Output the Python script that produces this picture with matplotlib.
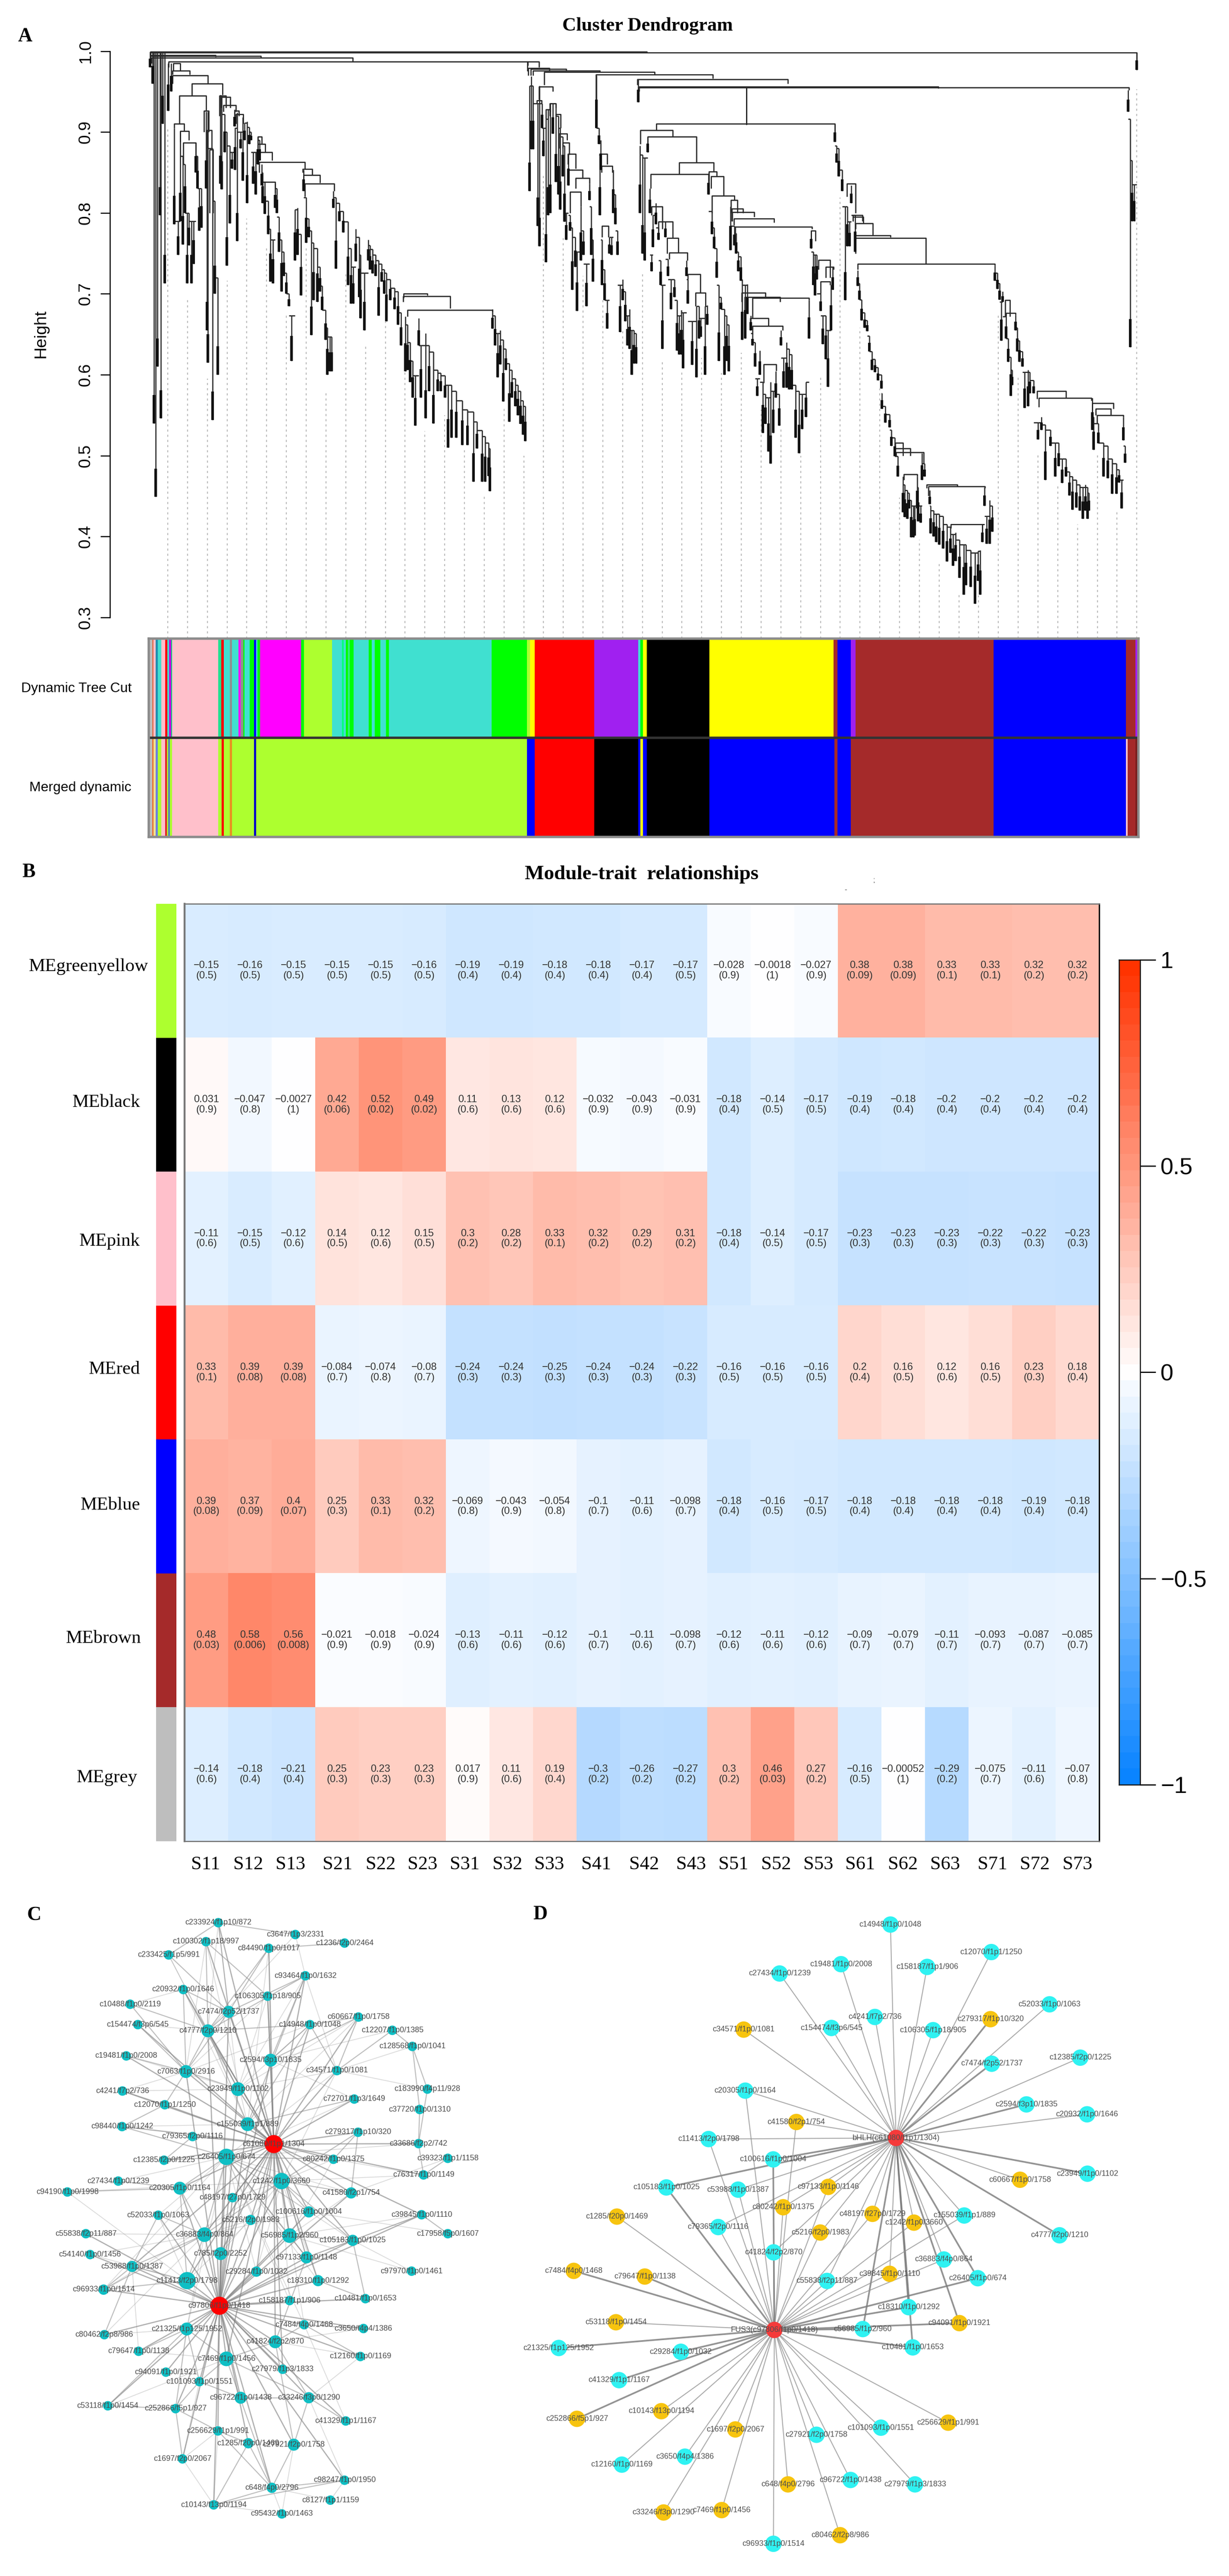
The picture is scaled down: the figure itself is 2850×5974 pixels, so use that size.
import numpy as np
import matplotlib
matplotlib.use("Agg")
import matplotlib.pyplot as plt
from matplotlib.collections import LineCollection
from matplotlib.colors import LinearSegmentedColormap, Normalize

W, H = 2850, 5974
SERIF = "Liberation Serif"
SANS = "Liberation Sans"

# ---------------------------------------------------------------- panel A data
dyn_edges = [189.75,194,196,198.7,201.3,206,210.5,213.6,215.4,218.5,219.6,278.3,282,285.6,293.3,296,304.3,307,310,312,318.6,324,326.7,328.5,331.8,384,387.7,423.5,436.3,438.5,441,444,446,451,470,474,478,485,492,496,504,627,672,676,682,758,814,817,820,825,905,1063,1068,1085,1091,1267,1436,1448,1452]
dyn_colors = ["#BEBEBE","#E07050","#FFC0CB","#1F8FB0","#40E0D0","#FFC0CB","#FF0000","#40E0D0","#C000E0","#00E070","#FFC0CB","#20E090","#FF0000","#40E0D0","#909090","#40E0D0","#FF00FF","#909090","#00FF00","#40E0D0","#00FF00","#0000FF","#40E0D0","#00FF00","#FF00FF","#00FF00","#ADFF2F","#40E0D0","#00FF80","#40E0D0","#00FF00","#30F080","#00FF00","#40E0D0","#00FF00","#40E0D0","#00FF00","#40E0D0","#00FF00","#40E0D0","#40E0D0","#00FF00","#ADFF2F","#FFFF00","#FF0000","#A020F0","#40E0D0","#00FF00","#FFFF00","#000000","#FFFF00","#A52A2A","#0000FF","#A020F0","#A52A2A","#0000FF","#A52A2A","#A020F0"]
merged_edges = [189.75,194,196,198.7,201.3,206,210.5,213,214.5,216.7,219.6,278.3,283,285.6,293.3,296,324,326.7,672,682,758,814,817,820,825,905,1064,1068,1085,1091,1267,1436,1438,1448,1452]
merged_colors = ["#BEBEBE","#E87030","#F0E090","#6A80E0","#ADFF2F","#FFC0CB","#E02020","#ADFF2F","#5080C0","#ADFF2F","#FFC0CB","#ADFF2F","#FF0000","#ADFF2F","#E89020","#ADFF2F","#0000C8","#ADFF2F","#0000FF","#FF0000","#000000","#0000FF","#FFFF00","#0000FF","#000000","#0000FF","#A52A2A","#0000FF","#A52A2A","#A52A2A","#0000FF","#FFC0CB","#A52A2A","#7A1F1F"]

guide_tops = [.905,.692,.595,.716,.793,.76,.673,.756,.58,.726,.636,.685,.614,.53,.55,.509,.449,.561,.50,
              .849,.772,.722,.696,.655,.728,.617,.606,.621,.602,.627,.557,.535,.50,.60,.819,.658,
              .583,.448,.396,.37,.328,.327,.674,.60,.503,.464,.415,.503,.432,.953]

# brackets: left x, right x, height, left child height, right child height
brackets_top = [(192,1450,.998,.985,.977),(192,825,.999,.985,.998),(193,450,.992,.985,.987),(192,333,.994,.985,.992),
    (192,275,.995,.985,.993),(215,673,.987,.98,.982),(221,230,.985,.976,.976),(220,242,.976,.971,.971),(220,265,.970,.96,.96)]
brackets_a = [(245,284,.960,.945,.946),(229,263,.945,.910,.926),(222,235,.910,.905,.901),(230,241,.901,.888,.89),(234,250,.887,.86,.87),
    (260,266,.926,.90,.90),(264,270,.902,.88,.88),(267.5,271.6,.878,.80,.80),(280,288,.945,.92,.93),(282,294,.943,.93,.93),
    (285,301,.933,.925,.925),(299,305,.926,.92,.92),(301,310,.922,.91,.91),(329,334,.894,.86,.885),(329,338.5,.885,.86,.875),
    (329,347,.875,.87,.865),(330.6,389,.863,.85,.854),(335,351,.838,.82,.825),(386,398.5,.854,.85,.847),(387.5,408,.847,.84,.837),
    (389,426,.836,.82,.827),(514,574,.697,.69,.682),(515,545,.70,.695,.698),(520,628,.680,.672,.678)]
brackets_b = [(672.6,687.5,.987,.975,.98),(674,700.7,.979,.97,.975),(677,722,.978,.97,.975),(680,765,.976,.97,.974),(694,835,.974,.958,.971),
    (760,909,.971,.94,.966),(813,1005,.965,.958,.96),(814,1440,.955,.94,.952),(815,1197,.956,.95,.954),(951.8,951.8,.954,.909,.909),
    (837,1065,.91,.902,.895),(817,858,.902,.885,.894),(826,888,.894,.875,.862),(866,910,.862,.848,.851),(830,904,.848,.83,.835),
    (904,914,.851,.84,.845),(907,923,.845,.83,.821),(908,936.4,.821,.80,.816),(932,940.6,.816,.80,.80),(933.6,947.6,.805,.79,.80),
    (934,962,.801,.79,.795),(936,987,.793,.785,.788),(938,1035.5,.783,.76,.78),(946,976,.701,.69,.695),(950,995,.696,.68,.69),
    (960,1032,.695,.67,.692),(957,980,.67,.655,.66),(960,998,.66,.65,.655),(974,990,.613,.59,.605),(1034.6,1040,.778,.756,.765),
    (1044,1058.5,.742,.73,.72),(1053,1063,.733,.72,.73),(1046.7,1058.5,.715,.70,.711),(687.5,705,.956,.94,.95),(685,691,.939,.935,.935),
    (701,709,.935,.92,.93),(696.5,702,.928,.916,.925),(709,715,.922,.92,.905),(713,723,.898,.88,.89),(717.5,726,.887,.88,.872),
    (724.5,734,.873,.86,.855),(725,743,.853,.84,.843),(734,752,.843,.83,.836),(727,741,.826,.80,.808),(853.6,876.6,.751,.743,.741),
    (851,865,.769,.75,.751),(839.6,858,.789,.77,.769),(831,845,.808,.797,.78),(877.5,893,.724,.718,.701),(887,900,.701,.685,.685),
    (765,774.5,.873,.86,.86),(767,781,.858,.85,.85),(768,776,.784,.77,.77)]
brackets_c = [(1088,1101,.795,.79,.787),(1091,1113,.787,.78,.772),(1091,1136,.772,.77,.77),(1091,1181,.769,.75,.737),(1094,1269,.737,.73,.735),
    (1142,1151.5,.516,.50,.50),(1142,1161,.509,.50,.50),(1143,1178,.504,.50,.49),(1153,1170,.477,.47,.474),(1182,1221,.464,.46,.462),
    (1184,1256,.462,.45,.46),(1213,1253,.415,.41,.395),(1282,1288,.692,.672,.672),(1283,1295,.676,.672,.674),(1322.6,1359.4,.58,.57,.572),
    (1325,1392,.571,.56,.568),(1393,1420,.565,.55,.558),(1397.6,1417,.558,.55,.55),(1399,1433,.55,.54,.548),(1080,1091,.836,.82,.80),(1088,1100,.797,.79,.79)]

# leaves: x, top height, bottom height
left_stems = [(198.4,.999,.449),(196.5,.999,.54),(205,.999,.546),(201,.999,.61),(210,.999,.713),(204,.999,.797),(207.5,.999,.91),(214.5,.985,.926),(218.6,.985,.95),(195,.999,.96),(191.7,.999,.98)]
casc_1 = [(222,.905,.786),(227,.79,.748),(230,.90,.79),(233,.87,.761),(236,.86,.80),(239,.80,.713),(241,.80,.76),(244.5,.79,.713),(247,.79,.737),(250,.887,.85),(252,.87,.83),(254,.83,.778),(257,.83,.782)]
casc_2 = [(263,.925,.83),(264,.90,.655),(265,.925,.615),(271,.88,.544),(274,.815,.70),(277.6,.72,.60)]
casc_3 = [(281,.946,.836),(283,.945,.829),(286.5,.922,.875),(289.6,.90,.735),(293,.883,.787),(296,.875,.855),(299,.928,.907),(300,.905,.853),(302.5,.924,.765),(307,.90,.88),(309.5,.918,.84)]
casc_4 = [(312,.911,.89),(315,.913,.812),(318,.906,.885),(320,.90,.89),(323,.875,.836),(326,.875,.823),(329,.894,.86),(331,.89,.865)]
casc_5 = [(334,.86,.834),(335,.85,.812),(338,.838,.799),(342,.815,.774),(345,.78,.715),(348,.767,.713),(351,.836,.806),(353,.83,.80),(356,.795,.752),(359,.767,.703),(362,.752,.722),(365,.726,.70),(368.5,.70,.685),(372,.673,.617),(376,.804,.741),(379.6,.806,.748),(383.7,.774,.698)]
casc_6 = [(387.5,.853,.827),(390.6,.819,.763),(394,.793,.77),(397,.778,.649),(400,.763,.692),(405,.756,.69),(408,.733,.703),(411,.71,.68),(415,.68,.643),(417.5,.658,.60),(420.6,.647,.604),(423,.647,.604)]
casc_7 = [(425,.827,.806),(428.5,.819,.731),(433,.812,.79),(438,.802,.776),(444,.789,.711),(447.5,.756,.688),(450.6,.733,.688),(454,.78,.74),(458,.77,.696),(460,.748,.67),(465,.726,.655),(469.5,.767,.741),(472,.76,.73),(475,.755,.725),(479,.748,.722),(483,.741,.673),(487,.737,.715),(490,.73,.70),(493,.726,.666),(498,.718,.692),(503,.707,.681),(507.4,.703,.662),(511.5,.677,.636)]
casc_8 = [(517,.672,.604),(520,.662,.606),(523,.64,.591),(526.4,.617,.572),(529.5,.599,.537),(534,.67,.636),(537,.636,.572),(543,.651,.546),(547,.636,.58),(553,.628,.54),(558,.606,.58),(562,.602,.58),(567.4,.599,.572),(571.5,.587,.51),(576,.587,.522),(582,.58,.522),(589.5,.568,.513),(596,.557,.513),(604,.554,.468),(608.5,.542,.509),(615,.531,.468),(619,.524,.468),(623,.516,.475),(625,.509,.456)]
casc_9 = [(628,.681,.657),(631.5,.673,.636),(634.7,.651,.597),(638,.655,.613),(641.6,.643,.567),(645,.632,.606),(649.5,.614,.542),(652.7,.606,.572),(657.4,.595,.561),(660.6,.587,.55),(664,.58,.539),(667,.568,.526),(670,.561,.518)]
casc_10 = [(675.4,.957,.827),(677.4,.969,.879),(680,.957,.879),(686,.935,.784),(688,.957,.759),(691.4,.935,.905),(693,.905,.87),(696.5,.916,.739),(699,.928,.797),(702,.935,.80),(705,.935,.898),(709,.935,.838),(712,.92,.823),(714.7,.905,.804),(717.5,.894,.845),(720,.883,.789),(722,.80,.767),(725,.872,.834),(727,.797,.778),(730,.782,.705),(733.5,.77,.733),(736,.752,.679),(741,.808,.741),(744,.778,.748),(748,.737,.685),(752,.836,.816),(754,.808,.748),(756,.767,.715)]
casc_11 = [(760.5,.97,.905),(764,.905,.885),(765,.872,.797),(766,.89,.853),(768,.767,.711),(771,.73,.692),(774.5,.692,.657),(777,.77,.75),(780,.77,.748),(782,.853,.80),(785,.823,.786),(787.7,.778,.748),(791,.711,.653),(794,.718,.692),(797.5,.703,.666),(800,.673,.636),(803,.681,.632),(806,.655,.60),(808.7,.655,.614),(811.5,.651,.614)]
casc_12 = [(814,.965,.937)]
casc_13 = [(816,.883,.80),(819.4,.872,.75),(822,.868,.741),(826,.894,.875)]
casc_14 = [(829,.83,.80),(831,.748,.728),(832.6,.797,.758),(836.8,.812,.786),(839.6,.782,.767),(842.4,.741,.711),(845,.711,.632),(848.6,.789,.77),(852,.743,.722),(856,.718,.681),(860,.718,.696),(863.4,.692,.63),(866,.673,.625),(869,.68,.625),(871,.677,.608),(875.5,.741,.722),(877.5,.718,.688),(883,.666,.612),(888,.685,.597),(891.5,.685,.645),(894,.67,.647),(899,.685,.60),(902,.686,.662)]
casc_15 = [(903.6,.849,.823),(908,.802,.774),(911,.782,.756),(914,.756,.72),(917,.711,.617),(919.6,.696,.681),(924,.681,.60),(926.6,.673,.617),(929.4,.662,.604)]
casc_16 = [(931.6,.808,.754),(936.4,.784,.76),(939,.775,.75),(941.4,.752,.728),(945,.746,.716),(946.8,.718,.643),(950.4,.711,.645),(953,.712,.675)]
casc_17 = [(957.4,.673,.655),(960,.651,.636),(963,.64,.61),(966,.595,.574),(969,.63,.60),(973,.591,.528),(976.5,.576,.539),(980,.572,.505),(982.7,.591,.49),(986,.58,.528),(989.7,.604,.572),(994,.576,.537)]
casc_18 = [(996,.655,.636),(999.5,.621,.584),(1003,.64,.584),(1006.5,.632,.582),(1010,.625,.582),(1015,.587,.522),(1019,.58,.503),(1023,.576,.533),(1028,.591,.548),(1032,.692,.645)]
casc_19 = [(1034.6,.778,.756),(1037.4,.752,.711),(1039.4,.748,.698),(1041.6,.748,.718),(1046.7,.70,.679),(1049.5,.673,.638),(1053,.673,.619),(1056,.655,.585),(1060,.711,.655),(1062,.733,.705)]
casc_20 = [(1064.6,.909,.888),(1067,.883,.862),(1069.7,.88,.845),(1074,.853,.827),(1078,.808,.692),(1081,.808,.759),(1083.7,.789,.759),(1085.7,.834,.812),(1090.7,.797,.752)]
casc_21 = [(1093.7,.729,.71),(1096,.713,.693),(1099,.693,.667),(1103,.677,.658),(1106,.667,.654),(1109,.648,.629),(1112,.629,.606),(1116,.619,.603),(1120,.609,.593),(1124,.60,.583),(1125,.577,.558),(1129,.561,.541),(1134.5,.551,.535),(1137,.532,.512),(1141,.522,.499),(1145,.499,.474)]
casc_22 = [(1151.5,.474,.43),(1154,.464,.424),(1157,.457,.422),(1159.5,.454,.435),(1162,.445,.399),(1165,.438,.399),(1166.5,.438,.401),(1170,.474,.435),(1171,.461,.419),(1174,.438,.417),(1176,.503,.47),(1179,.49,.474)]
casc_23 = [(1186,.457,.44),(1187,.438,.404),(1191,.432,.40),(1194,.428,.393),(1198,.428,.39),(1203,.425,.385),(1207.6,.415,.369),(1212,.412,.38),(1215.5,.403,.364),(1219,.405,.37),(1224,.396,.349),(1229,.39,.328),(1232,.39,.34),(1238,.383,.338),(1243.6,.38,.317),(1247.6,.382,.345),(1250,.383,.328)]
casc_24 = [(1253,.415,.393),(1255.5,.461,.438),(1258.6,.425,.391),(1262,.445,.391),(1265.5,.438,.406)]
casc_25 = [(1268.6,.735,.716),(1272,.726,.706),(1275,.713,.693),(1277,.69,.642),(1279,.703,.69),(1283,.672,.645),(1286,.645,.616),(1289,.622,.574),(1291,.606,.587)]
casc_26 = [(1295,.674,.655),(1297.6,.658,.629),(1300,.642,.616),(1304,.629,.61),(1307,.603,.559),(1311,.606,.561),(1313.4,.603,.577),(1318.6,.593,.577),(1324,.541,.52),(1328,.548,.532),(1333,.538,.47),(1339.7,.532,.512),(1345.7,.516,.474),(1350,.516,.487),(1354.7,.496,.466),(1359.4,.496,.474),(1364,.48,.451),(1368,.474,.433),(1372.6,.47,.436),(1377,.464,.432),(1381,.461,.422),(1384.4,.464,.432),(1387,.461,.422),(1389,.454,.432)]
casc_27 = [(1393,.571,.532),(1395,.548,.507),(1401,.54,.515),(1407.6,.516,.474),(1413,.512,.472),(1418.6,.496,.453),(1424,.49,.453),(1427,.483,.467),(1430.7,.47,.435),(1433,.548,.519),(1435,.512,.491)]
casc_28 = [(1439,.952,.925),(1441.6,.916,.634),(1444,.865,.79),(1446.5,.835,.79),(1450,.998,.977)]
cascades = [casc_1,casc_2,casc_3,casc_4,casc_5,casc_6,casc_7,casc_8,casc_9,casc_10,casc_11,casc_12,casc_13,casc_14,
            casc_15,casc_16,casc_17,casc_18,casc_19,casc_20,casc_21,casc_22,casc_23,casc_24,casc_25,casc_26,casc_27,casc_28]

# ---------------------------------------------------------------- panel B data
modules = ["MEgreenyellow","MEblack","MEpink","MEred","MEblue","MEbrown","MEgrey"]
module_colors = ["#ADFF2F","#000000","#FFC0CB","#FF0000","#0000FF","#A52A2A","#BEBEBE"]
traits = ["S11","S12","S13","S21","S22","S23","S31","S32","S33","S41","S42","S43","S51","S52","S53","S61","S62","S63","S71","S72","S73"]
r_greenyellow = [-0.15,-0.16,-0.15,-0.15,-0.15,-0.16,-0.19,-0.19,-0.18,-0.18,-0.17,-0.17,-0.028,-0.0018,-0.027,0.38,0.38,0.33,0.33,0.32,0.32]
p_greenyellow = [0.5,0.5,0.5,0.5,0.5,0.5,0.4,0.4,0.4,0.4,0.4,0.5,0.9,1,0.9,0.09,0.09,0.1,0.1,0.2,0.2]
r_black = [0.031,-0.047,-0.0027,0.42,0.52,0.49,0.11,0.13,0.12,-0.032,-0.043,-0.031,-0.18,-0.14,-0.17,-0.19,-0.18,-0.2,-0.2,-0.2,-0.2]
p_black = [0.9,0.8,1,0.06,0.02,0.02,0.6,0.6,0.6,0.9,0.9,0.9,0.4,0.5,0.5,0.4,0.4,0.4,0.4,0.4,0.4]
r_pink = [-0.11,-0.15,-0.12,0.14,0.12,0.15,0.3,0.28,0.33,0.32,0.29,0.31,-0.18,-0.14,-0.17,-0.23,-0.23,-0.23,-0.22,-0.22,-0.23]
p_pink = [0.6,0.5,0.6,0.5,0.6,0.5,0.2,0.2,0.1,0.2,0.2,0.2,0.4,0.5,0.5,0.3,0.3,0.3,0.3,0.3,0.3]
r_red = [0.33,0.39,0.39,-0.084,-0.074,-0.08,-0.24,-0.24,-0.25,-0.24,-0.24,-0.22,-0.16,-0.16,-0.16,0.2,0.16,0.12,0.16,0.23,0.18]
p_red = [0.1,0.08,0.08,0.7,0.8,0.7,0.3,0.3,0.3,0.3,0.3,0.3,0.5,0.5,0.5,0.4,0.5,0.6,0.5,0.3,0.4]
r_blue = [0.39,0.37,0.4,0.25,0.33,0.32,-0.069,-0.043,-0.054,-0.1,-0.11,-0.098,-0.18,-0.16,-0.17,-0.18,-0.18,-0.18,-0.18,-0.19,-0.18]
p_blue = [0.08,0.09,0.07,0.3,0.1,0.2,0.8,0.9,0.8,0.7,0.6,0.7,0.4,0.5,0.5,0.4,0.4,0.4,0.4,0.4,0.4]
r_brown = [0.48,0.58,0.56,-0.021,-0.018,-0.024,-0.13,-0.11,-0.12,-0.1,-0.11,-0.098,-0.12,-0.11,-0.12,-0.09,-0.079,-0.11,-0.093,-0.087,-0.085]
p_brown = [0.03,0.006,0.008,0.9,0.9,0.9,0.6,0.6,0.6,0.7,0.6,0.7,0.6,0.6,0.6,0.7,0.7,0.7,0.7,0.7,0.7]
r_grey = [-0.14,-0.18,-0.21,0.25,0.23,0.23,0.017,0.11,0.19,-0.3,-0.26,-0.27,0.3,0.46,0.27,-0.16,-0.00052,-0.29,-0.075,-0.11,-0.07]
p_grey = [0.6,0.4,0.4,0.3,0.3,0.3,0.9,0.6,0.4,0.2,0.2,0.2,0.2,0.03,0.2,0.5,1,0.2,0.7,0.6,0.8]
r_rows = [r_greenyellow,r_black,r_pink,r_red,r_blue,r_brown,r_grey]
p_rows = [p_greenyellow,p_black,p_pink,p_red,p_blue,p_brown,p_grey]
cbar_ticks = [-1,-0.5,0,0.5,1]
cbar_labels = ["\u22121","\u22120.5","0","0.5","1"]

# ---------------------------------------------------------------- panel C data
c_names = ["c233924/f1p10/872","c100302/f1p18/997","c3647/f1p3/2331","c84490/f1p0/1017","c1236/f2p0/2464","c233425/f1p5/991","c93464/f1p0/1632","c20932/f1p0/1646","c106305/f1p18/905","c10488/f1p0/2119",
 "c7474/f2p52/1737","c60667/f1p0/1758","c154474/f3p6/545","c4777/f2p0/1210","c14948/f1p0/1048","c12207/f1p0/1385","c128568/f1p0/1041","c19481/f1p0/2008","c2594/f3p10/1835","c7063/f1p0/2916",
 "c34571/f1p0/1081","c23949/f1p0/1102","c4241/f7p2/736","c183990/f4p11/928","c72701/f1p3/1649","c12070/f1p1/1250","c37720/f1p0/1310","c155039/f1p1/889","c98440/f1p0/1242","c279317/f1p10/320",
 "c79365/f2p0/1116","c33686/f2p2/742","c61080/f1p1/1304","c26405/f1p0/674","c12385/f2p0/1225","c80242/f1p0/1375","c39323/f1p1/1158","c76317/f1p0/1149","c1242/f1p0/3660","c27434/f1p0/1239",
 "c94190/f1p0/1998","c20305/f1p0/1164","c41580/f2p1/754","c48197/f27p0/1729","c100616/f1p0/1004","c52033/f1p0/1063","c39845/f1p0/1110","c5216/f2p0/1983","c36883/f4p0/864","c56985/f1p2/960",
 "c55838/f2p11/887","c17958/f5p0/1607","c105183/f1p0/1025","c54140/f1p0/1456","c785/f2p0/2252","c97133/f1p0/1148","c53988/f1p0/1387","c29284/f1p0/1032","c97970/f1p0/1461","c11413/f2p0/1798",
 "c18310/f1p0/1292","c96933/f1p0/1514","c10481/f1p0/1653","c158187/f1p1/906","c97806/f1p0/1418","c7484/f4p0/1468","c3650/f4p4/1386","c21325/f1p125/1952","c80462/f2p8/986","c41824/f2p2/870",
 "c79647/f1p0/1138","c12160/f1p0/1169","c7469/f1p0/1456","c27979/f1p3/1833","c94091/f1p0/1921","c101093/f1p0/1551","c96722/f1p0/1438","c33246/f3p0/1290","c53118/f1p0/1454","c252866/f5p1/927",
 "c41329/f1p1/1167","c256629/f1p1/991","c1285/f20p0/1469","c27921/f2p0/1758","c1697/f2p0/2067","c98247/f1p0/1950","c648/f4p0/2796","c8127/f1p1/1159","c10143/f13p0/1194","c95432/f1p0/1463"]
c_x = [567,535,767,698,895,438,793,476,695,338,594,931,358,540,805,1019,1071,328,703,483,875,618,318,1110,920,428,1090,643,317,930,
       500,1087,711,588,426,866,1163,1100,731,307,175,467,912,604,802,411,1095,651,531,752,223,1163,916,234,573,796,343,666,1069,486,
       826,269,949,752,570,790,944,485,271,715,360,936,588,734,431,518,625,802,280,456,898,566,645,763,474,895,706,858,555,732]
c_y = [190,230,215,244,233,258,302,331,345,362,378,389,405,418,405,417,451,471,480,504,502,541,545,541,562,574,584,615,620,632,
       641,656,657,684,691,689,687,722,735,735,758,750,760,770,800,807,806,817,848,850,846,846,860,890,888,896,915,926,925,945,
       945,964,983,987,998,1038,1046,1047,1059,1074,1094,1105,1110,1132,1138,1158,1192,1192,1209,1215,1241,1262,1288,1291,1321,1366,1382,1408,1418,1437]
c_sizes = {"c61080":42,"c97806":42,"c26405":38,"c1242":38,"c11413":40,"c36883":34,"c56985":34,"c7469":34,"c23949":32,"c155039":32,"c2594":30,"c7063":30,"c4777":30,"c97133":28,"c41824":30,"c21325":30,"c20305":30,"c7474":28,"c785":30,"c96722":28,"c27921":28,"c33246":26,"c18310":26,"c100616":26,"c41580":26,"c105183":26,"c53988":26,"c96933":24,"c5216":24,"c29284":24,"c1285":24,"c648":24}
c_hub1 = "c233924 c100302 c84490 c93464 c106305 c7474 c4777 c14948 c2594 c7063 c34571 c23949 c155039 c26405 c79365 c1242 c48197 c100616 c5216 c36883 c56985 c785 c97133 c29284 c11413 c18310 c80242 c279317 c41580 c105183 c60667 c72701 c20305 c12385 c98440 c12070 c4241 c19481 c20932 c154474 c76317 c39845 c33686 c53988 c7469 c27979 c41824".split()
c_hub2 = "c11413 c26405 c1242 c36883 c56985 c785 c97133 c29284 c18310 c158187 c7484 c3650 c21325 c80462 c41824 c79647 c12160 c7469 c27979 c94091 c101093 c96722 c33246 c53118 c252866 c41329 c256629 c1285 c27921 c1697 c98247 c648 c10143 c53988 c96933 c54140 c52033 c55838 c20305 c48197 c5216 c100616 c155039 c23949 c2594 c7063 c4777 c7474 c105183 c41580 c10481 c39845".split()
c_strong = [("c7063","c7474"),("c7063","c4777"),("c7063","c20932"),("c7063","c10488"),("c7063","c154474"),("c7063","c12070"),("c7063","c23949"),("c4777","c7474"),("c4777","c84490"),("c4777","c93464"),("c4777","c23949"),("c4777","c155039"),("c4777","c14948"),("c7474","c93464"),("c7474","c84490"),("c7474","c20932"),("c2594","c93464"),("c2594","c14948"),("c2594","c106305"),("c34571","c14948"),("c34571","c60667"),("c128568","c12207"),("c128568","c183990"),("c128568","c37720"),("c37720","c33686"),("c183990","c33686"),("c33686","c76317"),("c39323","c76317"),("c1236","c84490"),("c3647","c233924"),("c233924","c233425"),("c233425","c7474"),("c233924","c7474"),("c100302","c4777"),("c100302","c106305"),("c279317","c1242"),("c279317","c80242"),("c279317","c41580"),("c80242","c26405"),("c1242","c41580"),("c1242","c105183"),("c1242","c100616"),("c1242","c56985"),("c1242","c36883"),("c1242","c26405"),("c26405","c36883"),("c26405","c56985"),("c26405","c20305"),("c26405","c12385"),("c26405","c97133"),("c20305","c36883"),("c20305","c11413"),("c36883","c53988"),("c36883","c96933"),("c36883","c11413"),("c11413","c53988"),("c11413","c96933"),("c53988","c96933"),("c53988","c52033"),("c53988","c80462"),("c97133","c105183"),("c97133","c56985"),("c56985","c105183"),("c41824","c7484"),("c41824","c33246"),("c41824","c7469"),("c41824","c97133"),("c7469","c21325"),("c7469","c33246"),("c7469","c101093"),("c7469","c648"),("c21325","c101093"),("c21325","c252866"),("c21325","c79647"),("c21325","c53118"),("c101093","c252866"),("c252866","c53118"),("c252866","c1697"),("c252866","c256629"),("c256629","c648"),("c256629","c1285"),("c1285","c648"),("c1285","c10143"),("c10143","c648"),("c10143","c98247"),("c648","c27921"),("c648","c98247"),("c27921","c33246"),("c27921","c41824"),("c33246","c41329"),("c33246","c96722"),("c96722","c101093"),("c12160","c7484"),("c3650","c7484"),("c10481","c18310"),("c10481","c105183"),("c17958","c39845"),("c39845","c105183"),("c94190","c20305"),("c27434","c20305"),("c52033","c36883"),("c98440","c26405"),("c98440","c12070"),("c12385","c79365"),("c19481","c7063"),("c4241","c12070"),("c20932","c23949"),("c10488","c4777"),("c60667","c14948"),("c60667","c2594"),("c93464","c155039"),("c14948","c155039"),("c72701","c155039"),("c12207","c34571")]
c_faint = "c94190-c1242 c97970-c105183 c97970-c56985 c17958-c100616 c39323-c41580 c76317-c1242 c76317-c80242 c33686-c26405 c39845-c97133 c39845-c56985 c12160-c41824 c12160-c33246 c3650-c41824 c41329-c7484 c98247-c33246 c8127-c648 c8127-c98247 c95432-c648 c95432-c10143 c95432-c27921 c10143-c256629 c10143-c1697 c1697-c256629 c1697-c101093 c53118-c7469 c79647-c7469 c79647-c53988 c80462-c21325 c80462-c36883 c54140-c36883 c54140-c11413 c55838-c36883 c52033-c11413 c52033-c26405 c27434-c26405 c94190-c11413 c98440-c155039 c4241-c7063 c4241-c23949 c19481-c23949 c154474-c4777 c10488-c20932 c20932-c155039 c233425-c4777 c233425-c23949 c233924-c23949 c233924-c4777 c100302-c7063 c100302-c155039 c84490-c2594 c84490-c155039 c3647-c93464 c3647-c4777 c93464-c34571 c93464-c23949 c106305-c23949 c106305-c7063 c14948-c23949 c14948-c7063 c60667-c23949 c60667-c155039 c12207-c2594 c72701-c2594 c72701-c26405 c183990-c34571 c128568-c34571 c34571-c23949 c34571-c26405 c34571-c1242 c80242-c1242 c80242-c56985 c41580-c26405 c41580-c56985 c105183-c26405 c100616-c26405 c100616-c36883 c48197-c1242 c48197-c36883 c5216-c36883 c5216-c11413 c785-c26405 c785-c1242 c29284-c1242 c29284-c26405 c158187-c1242 c158187-c26405 c18310-c1242 c18310-c26405 c7484-c1242 c7484-c26405 c21325-c26405 c21325-c36883 c96933-c26405 c96933-c1242".split()

# ---------------------------------------------------------------- panel D data
d_names = ["c14948/f1p0/1048","c12070/f1p1/1250","c19481/f1p0/2008","c158187/f1p1/906","c27434/f1p0/1239","c52033/f1p0/1063","c4241/f7p2/736","c279317/f1p10/320","c34571/f1p0/1081","c154474/f3p6/545",
 "c106305/f1p18/905","c7474/f2p52/1737","c12385/f2p0/1225","c20305/f1p0/1164","c2594/f3p10/1835","c20932/f1p0/1646","c41580/f2p1/754","bHLH(c61080/f1p1/1304)","c11413/f2p0/1798","c100616/f1p0/1004",
 "c23949/f1p0/1102","c60667/f1p0/1758","c105183/f1p0/1025","c53988/f1p0/1387","c97133/f1p0/1146","c80242/f1p0/1375","c48197/f27p0/1729","c155039/f1p1/889","c1285/f20p0/1469","c1242/f1p0/3660",
 "c79365/f2p0/1116","c5216/f2p0/1983","c4777/f2p0/1210","c41824/f2p2/870","c36883/f4p0/864","c39845/f1p0/1110","c26405/f1p0/674","c79647/f1p0/1138","c55838/f2p11/887","c7484/f4p0/1468",
 "c18310/f1p0/1292","c53118/f1p0/1454","c94091/f1p0/1921","FUS3(c97806/f1p0/1418)","c56985/f1p2/960","c10481/f1p0/1653","c21325/f1p125/1952","c29284/f1p0/1032","c41329/f1p1/1167","c10143/f13p0/1194",
 "c252866/f5p1/927","c256629/f1p1/991","c101093/f1p0/1551","c1697/f2p0/2067","c27921/f2p0/1758","c3650/f4p4/1386","c12160/f1p0/1169","c96722/f1p0/1438","c648/f4p0/2796","c27979/f1p3/1833",
 "c33246/f3p0/1290","c7469/f1p0/1456","c80462/f2p8/986","c96933/f1p0/1514"]
d_x = [719,972,595,811,441,1118,680,970,351,571,826,973,1195,355,1060,1212,483,733,263,425,1213,1044,157,337,563,450,674,904,33,778,
       287,543,1143,426,853,717,938,103,560,-75.2,764.7,30.6,892,427.8,649.7,775,-112.7,193.4,38.6,144.4,-67.2,863.7,695.2,330,533.6,203.6,45.4,619,462,780.6,
       150.1,295.8,592.8,425.5]
d_y = [912,962,984,989,1001,1057,1080,1084,1103,1100,1104,1165,1154,1214,1239,1257,1271,1300,1302,1339,1365,1376,1390,1394,1389,1426,1438,1441,1443,1454,
       1462,1472,1477,1508,1521,1547,1555,1552,1560,1541.7,1607.7,1635.1,1636.7,1649.1,1647.5,1680.8,1681.9,1688.8,1740.4,1796.8,1810.7,1817.7,1826.8,1830,1839.7,1879.5,1894,1921.9,1929.9,1929.9,
       1981,1976.7,2022.3,2037.9]
d_gold = "c279317 c34571 c41580 c60667 c97133 c80242 c48197 c1285 c1242 c5216 c39845 c79647 c7484 c53118 c94091 c10143 c252866 c256629 c1697 c648 c33246 c7469 c80462".split()
d_bhlh_links = "c14948 c12070 c19481 c158187 c27434 c52033 c4241 c279317 c34571 c154474 c106305 c7474 c12385 c2594 c20932 c41580 c11413 c100616 c23949 c60667 c105183 c53988 c97133 c80242 c48197 c155039 c1242 c79365 c5216 c4777 c36883 c39845 c26405 c56985 c18310 c94091 c10481 c20305 c41824 c55838".split()
d_fus3_links = "c20305 c41580 c11413 c100616 c105183 c53988 c97133 c80242 c48197 c155039 c1242 c79365 c5216 c41824 c36883 c39845 c55838 c26405 c1285 c7484 c79647 c53118 c18310 c94091 c56985 c10481 c21325 c29284 c41329 c10143 c252866 c256629 c101093 c1697 c27921 c3650 c12160 c96722 c648 c27979 c33246 c7469 c80462 c96933".split()
d_thick = "c7484 c79647 c18310 c26405 c10481 c252866 c105183 c100616 c23949 c4777 c2594 c7474 c56985 c94091 c21325 c29284 c41329 c279317".split()

# ---------------------------------------------------------------- layout helpers
fig = plt.figure(figsize=(W / 100, H / 100), dpi=100, facecolor="white")

def ax_px(x0, y0, x1, y1, **kw):
    return fig.add_axes([x0 / W, 1 - y1 / H, (x1 - x0) / W, (y1 - y0) / H], **kw)

def ftext(x, y, s, **kw):
    kw.setdefault("ha", "center")
    kw.setdefault("va", "center")
    return fig.text(x / W, 1 - y / H, s, **kw)

# ---------------------------------------------------------------- panel A
ax = ax_px(345.4, 90, 2640, 1481)
ax.set_xlim(190, 1452)
ax.set_ylim(0.2738, 1.0152)
ax.patch.set_alpha(0)
for s in ("top", "right", "bottom"):
    ax.spines[s].set_visible(False)
ax.spines["left"].set_position(("outward", 64.8))
ax.spines["left"].set_bounds(0.3, 1.0)
ax.spines["left"].set_linewidth(1.8)
ax.set_xticks([])
ax.set_yticks([0.3, 0.4, 0.5, 0.6, 0.7, 0.8, 0.9, 1.0])
ax.tick_params(axis="y", length=15.8, width=1.8, pad=12)
for t in ax.get_yticklabels():
    t.set(rotation=90, va="center", fontsize=28, family=SANS)
guide_x = np.linspace(214, 1450, len(guide_tops))
for gx, gt in zip(guide_x, guide_tops):
    ax.plot([gx, gx], [0.2738, gt], color="#B8B8B8", lw=1.6, dashes=(2.2, 3.2), zorder=1)

thin, thick, brk = [], [], []
def add_stem(x, top, bot):
    thin.append([(x, top), (x, bot)])
    thick.append([(x, bot + min(0.035, (top - bot) * 0.55)), (x, bot)])
for x, top, bot in left_stems:
    add_stem(x, top, bot)
for casc in cascades:
    for i, (x, top, bot) in enumerate(casc):
        add_stem(x, top, bot)
        if i:
            px, ptop, _ = casc[i - 1]
            lev = min(top, ptop)
            brk.append([(px, lev), (x, lev)])
for group in (brackets_top, brackets_a, brackets_b, brackets_c):
    for xl, xr, h, bl, br in group:
        brk.append([(xl, bl), (xl, h), (xr, h), (xr, br)])
ax.add_collection(LineCollection(thin, colors="#333333", linewidths=2.0, zorder=3))
ax.add_collection(LineCollection(brk, colors="#2a2a2a", linewidths=2.0, zorder=3))
ax.add_collection(LineCollection(thick, colors="#111111", linewidths=4.4, zorder=4))

ftext(95, 774, "Height", rotation=90, fontsize=28, family=SANS)
ftext(1502, 60, "Cluster Dendrogram", fontsize=32, family=SERIF, weight="bold")
ftext(58, 85, "A", fontsize=33, family=SERIF, weight="bold")

bx = ax_px(345.4, 1481, 2640, 1941)
bx.set_xlim(190, 1452)
bx.set_ylim(0, 2)
bx.set_xticks([])
bx.set_yticks([])
bx.bar(dyn_edges[:-1], 1, width=np.diff(dyn_edges), bottom=1, align="edge", color=dyn_colors, linewidth=0)
bx.bar(merged_edges[:-1], 1, width=np.diff(merged_edges), bottom=0, align="edge", color=merged_colors, linewidth=0)
bx.axhline(1, color="#333333", lw=4)
for sp in bx.spines.values():
    sp.set_color("#8C8C8C")
    sp.set_linewidth(4)
ftext(305, 1597, "Dynamic Tree Cut", ha="right", fontsize=23, family=SANS)
ftext(305, 1827, "Merged dynamic", ha="right", fontsize=23, family=SANS)

# ---------------------------------------------------------------- panel B
cmap = LinearSegmentedColormap.from_list("bwr_wgcna", ["#0A84FF", "#FFFFFF", "#FF3300"])
norm = Normalize(-1, 1)
R = np.array(r_rows)
P = np.array(p_rows)
hx = ax_px(428, 2096, 2549, 4270)
hx.imshow(R, cmap=cmap, norm=norm, aspect="auto", interpolation="nearest")
hx.set_xticks([])
hx.set_yticks([])
for i in range(R.shape[0]):
    for j in range(R.shape[1]):
        lab = f"{R[i, j]:.6g}".replace("-", "\u2212") + f"\n({P[i, j]:.6g})"
        hx.text(j, i, lab, ha="center", va="center", fontsize=17, family=SANS, color="#333333", linespacing=1.1)
for s, col, lw in (("left", "#777777", 3.2), ("top", "#777777", 2), ("bottom", "#777777", 2), ("right", "#111111", 2.4)):
    hx.spines[s].set_color(col)
    hx.spines[s].set_linewidth(lw)

mx = ax_px(362, 2096, 409, 4270)
mx.bar(np.zeros(7), 1, width=1, bottom=np.arange(7) - 0.5, color=module_colors, linewidth=0)
mx.set_xlim(-0.5, 0.5)
mx.set_ylim(6.5, -0.5)
mx.axis("off")

mod_right = [344, 325, 325, 325, 325, 327, 319]
mod_y = [2242, 2557, 2879, 3176, 3491, 3800, 4123]
for name, rx, ry in zip(modules, mod_right, mod_y):
    ftext(rx, ry, name, ha="right", fontsize=31, family=SERIF)
lab_x = [477, 576, 674, 783, 883, 980, 1078, 1177, 1274, 1383, 1494, 1603, 1701, 1800, 1898, 1995, 2094, 2192, 2301, 2400, 2499]
for name, lx in zip(traits, lab_x):
    ftext(lx, 4324, name, fontsize=32, family=SERIF)
ftext(1488, 2028, "Module-trait  relationships", fontsize=34, family=SERIF, weight="bold")
ftext(67, 2023, "B", fontsize=33, family=SERIF, weight="bold")
ftext(1961, 2064, "-", fontsize=12, family=SANS, color="#444444")
ftext(2027, 2041, ";", fontsize=12, family=SANS, color="#333333")

cx = ax_px(2595, 2226, 2644, 4139)
grad = np.linspace(1, -1, 51).reshape(-1, 1)
cx.imshow(grad, cmap=cmap, norm=norm, aspect="auto", extent=(0, 1, -1, 1), interpolation="nearest")
cx.set_xticks([])
cx.yaxis.tick_right()
cx.set_yticks(cbar_ticks)
cx.set_yticklabels(cbar_labels, fontsize=39, family=SANS)
cx.tick_params(axis="y", length=26, width=2, pad=8)
for sp in cx.spines.values():
    sp.set_linewidth(1.8)
    sp.set_color("#111111")

# ---------------------------------------------------------------- panel C
ncx = ax_px(0, 4250, 1400, 5974)
ncx.set_xlim(0, 1568)
ncx.set_ylim(1568, 0)
ncx.axis("off")
ncx.patch.set_alpha(0)
c_pos = {n.split("/")[0]: (x, y) for n, x, y in zip(c_names, c_x, c_y)}
def seg(pos, a, b):
    return [pos[a], pos[b]]
hub_segs = [seg(c_pos, "c61080", k) for k in c_hub1] + [seg(c_pos, "c97806", k) for k in c_hub2]
faint_segs = [seg(c_pos, *p.split("-")) for p in c_faint]
ncx.add_collection(LineCollection(faint_segs, colors="#9a9a9a", linewidths=1.4, alpha=0.35, zorder=1))
ncx.add_collection(LineCollection(hub_segs, colors="#7d7d7d", linewidths=2.0, alpha=0.6, zorder=2))
ncx.add_collection(LineCollection([seg(c_pos, a, b) for a, b in c_strong], colors="#8a8a8a", linewidths=1.7, alpha=0.55, zorder=2))
c_sz = [(c_sizes.get(n.split("/")[0], 22) * 0.72) ** 2 for n in c_names]
c_col = ["#FF0000" if n.split("/")[0] in ("c61080", "c97806") else "#0FBFC4" for n in c_names]
ncx.scatter(c_x, c_y, s=c_sz, c=c_col, linewidths=0, zorder=3)
for n, x, y in zip(c_names, c_x, c_y):
    ncx.text(x, y, n, ha="center", va="center", fontsize=13, family=SANS, color="#4a4a4a", zorder=4)
ftext(79, 4442, "C", fontsize=33, family=SERIF, weight="bold")

# ---------------------------------------------------------------- panel D
ndx = ax_px(1200, 4400, 2850, 5974)
ndx.set_xlim(-216.3, 1568)
ndx.set_ylim(2096.5, 862.4)
ndx.axis("off")
ndx.patch.set_alpha(0)
d_keys = [n.split("(")[-1].split("/")[0] for n in d_names]
d_pos = dict(zip(d_keys, zip(d_x, d_y)))
for hub, links in (("c61080", d_bhlh_links), ("c97806", d_fus3_links)):
    light = [seg(d_pos, hub, k) for k in links if k not in d_thick]
    heavy = [seg(d_pos, hub, k) for k in links if k in d_thick]
    ndx.add_collection(LineCollection(light, colors="#8f8f8f", linewidths=1.6, alpha=0.75, zorder=2))
    ndx.add_collection(LineCollection(heavy, colors="#7a7a7a", linewidths=2.8, alpha=0.8, zorder=2))
d_col = ["#F53A3A" if k in ("c61080", "c97806") else ("#F7C40F" if k in d_gold else "#2FF2F2") for k in d_keys]
d_sz = [(38 * 0.72) ** 2] * len(d_keys)
ndx.scatter(d_x, d_y, s=d_sz, c=d_col, linewidths=0, zorder=3)
for n, x, y in zip(d_names, d_x, d_y):
    ndx.text(x, y, n, ha="center", va="center", fontsize=13, family=SANS, color="#4f4f4f", zorder=4)
ftext(1253, 4440, "D", fontsize=33, family=SERIF, weight="bold")

fig.savefig("out.png", dpi=100, facecolor="white")
